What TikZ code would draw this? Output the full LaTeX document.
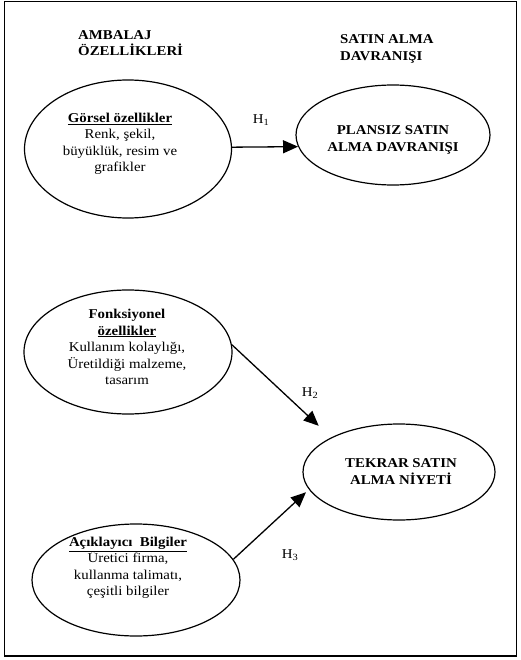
\documentclass[tikz,border=0pt]{standalone}
\usepackage{fontspec}
\setmainfont[FakeStretch=1.1]{Liberation Serif}
\usetikzlibrary{shapes.geometric,arrows.meta}
\tikzset{
  oval/.style={ellipse, draw, line width=1.2pt, inner sep=0pt},
  txt/.style={align=center, inner sep=0pt, font=\fontsize{13.5}{16.5}\selectfont},
  btxt/.style={align=center, inner sep=0pt, font=\fontsize{13.5}{17}\selectfont\bfseries},
  title/.style={align=left, anchor=west, inner sep=0pt, font=\fontsize{13.5}{16.5}\selectfont\bfseries},
  hlab/.style={inner sep=0pt, font=\fontsize{13.5}{16}\selectfont},
  arr/.style={line width=1.3pt, -{Triangle[length=15pt,width=13pt]}}
}
\begin{document}
\begin{tikzpicture}[x=1pt,y=-1pt]
\useasboundingbox (0,0) rectangle (520,660);
\draw[line width=1.6pt] (4.5,1.5) rectangle (516.5,656);

\node[title] (t1) at (78,43) {AMBALAJ\\ÖZELLİKLERİ};
\node[title] (t2) at (340,49) {SATIN ALMA\\DAVRANIŞI};

\node[oval, minimum width=207pt, minimum height=138pt] (e1) at (128,149) {};
\node[txt] (x1) at (120,144) {\underline{\textbf{Görsel özellikler}}\\Renk, şekil,\\büyüklük, resim ve\\grafikler};

\node[oval, minimum width=194pt, minimum height=100pt] (e2) at (393,135) {};
\node[btxt] (x2) at (393,140) {PLANSIZ SATIN\\ALMA DAVRANIŞI};

\node[oval, minimum width=208pt, minimum height=124pt] (e3) at (128,352) {};
\node[txt] (x3) at (127,347) {\textbf{Fonksiyonel}\\\underline{\textbf{özellikler}}\\Kullanım kolaylığı,\\Üretildiği malzeme,\\tasarım};

\node[oval, minimum width=192pt, minimum height=96pt] (e4) at (399,472) {};
\node[btxt] (x4) at (401,472) {TEKRAR SATIN\\ALMA NİYETİ};

\node[oval, minimum width=208pt, minimum height=112pt] (e5) at (136,580) {};
\node[txt] (x5) at (128,568) {\underline{\textbf{Açıklayıcı\ \ Bilgiler}}\\Üretici firma,\\kullanma talimatı,\\çeşitli bilgiler};

\draw[arr] (e1.1) -- (e2.187);
\draw[arr, shorten >=17pt] (e3.4) -- (e4.153);
\draw[arr, shorten >=4pt] (e5.12) -- (e4.191);

\node[hlab] (h1) at (261,120) {H\textsubscript{1}};
\node[hlab] (h2) at (310,393) {H\textsubscript{2}};
\node[hlab] (h3) at (290,555) {H\textsubscript{3}};
\end{tikzpicture}
\end{document}
